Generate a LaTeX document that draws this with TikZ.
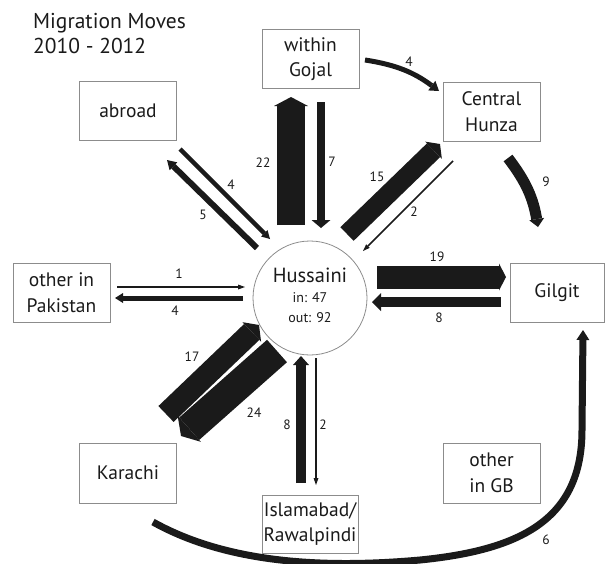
\documentclass[tikz,border=0pt]{standalone}
\usepackage{fontspec}
\setmainfont{PT Sans}
\usetikzlibrary{arrows.meta}
\definecolor{ink}{HTML}{1A1A1A}
\definecolor{frame}{HTML}{8C8C8C}
\begin{document}
\begin{tikzpicture}[x=1pt,y=-1pt,
  place/.style={draw=frame, line width=0.9pt, align=center, inner sep=0pt,
    minimum width=97pt, minimum height=59pt, text=ink,
    font=\fontsize{19.5}{25.5}\selectfont},
  num/.style={font=\fontsize{13.5}{15}\selectfont, inner sep=0pt, text=ink},
  ttl/.style={font=\fontsize{21.5}{25}\selectfont, inner sep=0pt, text=ink, anchor=base west},
  fa/.style n args={3}{draw=ink, line width=#1pt,
    -{Triangle[width=#2pt, length=#3pt, line width=0pt]}}]
\useasboundingbox (0,0) rectangle (605,563);

% title
\node[ttl] (t1) at (33,28) {Migration Moves};
\node[ttl] (t2) at (33,53) {2010 - 2012};

% places
\node[place] (gojal) at (310.5,59) {within\\Gojal};
\node[place] (abroad) at (128,110.5) {abroad};
\node[place] (hunza) at (491.5,111.5) {Central\\Hunza};
\node[place, minimum width=94pt] (gilgit) at (557,292.5) {Gilgit};
\node[place] (pak) at (61.5,292.5) {other in\\Pakistan};
\node[place, minimum height=60pt] (karachi) at (128,473) {Karachi};
\node[place, minimum width=96pt, minimum height=58pt] (isl) at (310,524) {Islamabad/\\Rawalpindi};
\node[place, minimum height=60pt] (gb) at (491.5,473) {other\\in GB};

% centre
\node[circle, draw=frame, line width=0.8pt, minimum size=114pt, inner sep=0pt] (hus) at (310,298) {};
\node[font=\fontsize{20.5}{22}\selectfont, text=ink, inner sep=0pt, anchor=base] (husname) at (310,282) {Hussaini};
\node[font=\fontsize{14}{16}\selectfont, text=ink, inner sep=0pt, anchor=base] (husin) at (310,302) {in: 47};
\node[font=\fontsize{14}{16}\selectfont, text=ink, inner sep=0pt, anchor=base] (husout) at (310,322) {out: 92};

% arrow end points
\coordinate (hg1) at (291,225); \coordinate (hg2) at (291,97);
\coordinate (gh1) at (321,102); \coordinate (gh2) at (321,228);
\coordinate (gc1) at (365,60);  \coordinate (gc2) at (439,91);
\coordinate (hc1) at (347,234); \coordinate (hc2) at (440,144);
\coordinate (ch1) at (453,161); \coordinate (ch2) at (363,251);
\coordinate (cg1) at (508,158); \coordinate (cg2) at (538,227);
\coordinate (hgl1) at (377,277); \coordinate (hgl2) at (506,277);
\coordinate (glh1) at (501,302); \coordinate (glh2) at (372,302);
\coordinate (ha1) at (257,248); \coordinate (ha2) at (167,160);
\coordinate (ah1) at (180,149); \coordinate (ah2) at (270,239);
\coordinate (ph1) at (117,287); \coordinate (ph2) at (245,287);
\coordinate (hp1) at (243,298); \coordinate (hp2) at (115,298);
\coordinate (kh1) at (166,414); \coordinate (kh2) at (259,325);
\coordinate (hk1) at (277,351); \coordinate (hk2) at (181,436);
\coordinate (ih1) at (301,483); \coordinate (ih2) at (301,356);
\coordinate (hi1) at (316,358); \coordinate (hi2) at (316,485);
\coordinate (kg1) at (153,522); \coordinate (kgm) at (420,560); \coordinate (kg2) at (583,330);

% flows
\draw[fa={28}{34}{9}] (hg1) -- (hg2);
\draw[fa={8}{19}{8}] (gh1) -- (gh2);
\draw[fa={5}{12}{9}] (gc1) to[bend left=14] (gc2);
\draw[fa={19}{24}{9}] (hc1) -- (hc2);
\draw[fa={1.6}{5}{7}] (ch1) -- (ch2);
\draw[fa={11}{15}{8}] (cg1) to[bend left=14] (cg2);
\draw[fa={23}{27}{7}] (hgl1) -- (hgl2);
\draw[fa={10}{18}{9}] (glh1) -- (glh2);
\draw[fa={6}{11}{9}] (ha1) -- (ha2);
\draw[fa={4.5}{9}{8}] (ah1) -- (ah2);
\draw[fa={1.2}{5}{7}] (ph1) -- (ph2);
\draw[fa={5}{10}{8}] (hp1) -- (hp2);
\draw[fa={22}{27}{10}] (kh1) -- (kh2);
\draw[fa={30}{35}{11}] (hk1) -- (hk2);
\draw[fa={10}{16}{9}] (ih1) -- (ih2);
\draw[fa={1.8}{5}{7}] (hi1) -- (hi2);
\draw[fa={7}{13}{10}] (kg1) .. controls (230,565) and (330,568) .. (kgm)
  .. controls (520,550) and (582,520) .. (582,430) -- (kg2);

% counts
\node[num] (n22) at (263,163) {22};
\node[num] (n7) at (332,162) {7};
\node[num] (n4a) at (409,62) {4};
\node[num] (n15) at (377,177) {15};
\node[num] (n2a) at (414,212) {2};
\node[num] (n9) at (546,182) {9};
\node[num] (n19) at (437,257) {19};
\node[num] (n8a) at (439,318) {8};
\node[num] (n5) at (203,215) {5};
\node[num] (n4b) at (231,185) {4};
\node[num] (n1) at (179,274) {1};
\node[num] (n4c) at (175,311) {4};
\node[num] (n17) at (192,357) {17};
\node[num] (n24) at (254,413) {24};
\node[num] (n8b) at (287,425) {8};
\node[num] (n2b) at (323,425) {2};
\node[num] (n6) at (546,540) {6};
\end{tikzpicture}
\end{document}
